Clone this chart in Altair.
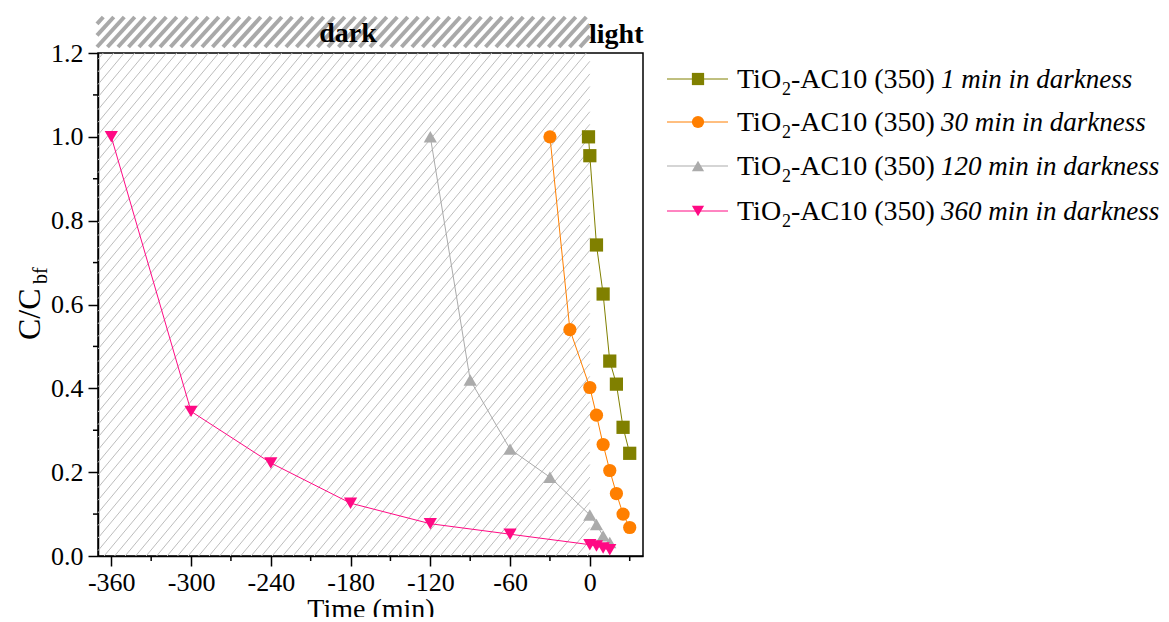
import altair as alt
import pandas as pd
import numpy as np

# ---------------- data ----------------
series_names = [
    "1 min in darkness",
    "30 min in darkness",
    "120 min in darkness",
    "360 min in darkness",
]
series_colors = ["#808000", "#ff7f00", "#ababab", "#ff0a84"]
series_shapes = ["square", "circle", "triangle-up", "triangle-down"]

time_1 = [-1, 0, 5, 10, 15, 20, 25, 30]
c_1 = [1.0, 0.955, 0.742, 0.625, 0.465, 0.41, 0.307, 0.245]
time_30 = [-30, -15, 0, 5, 10, 15, 20, 25, 30]
c_30 = [1.0, 0.54, 0.402, 0.336, 0.266, 0.204, 0.149, 0.10, 0.068]
time_120 = [-120, -90, -60, -30, 0, 5, 10, 15]
c_120 = [1.0, 0.42, 0.255, 0.188, 0.098, 0.075, 0.048, 0.032]
time_360 = [-360, -300, -240, -180, -120, -60, 0, 5, 10, 15]
c_360 = [1.0, 0.345, 0.222, 0.126, 0.077, 0.052, 0.027, 0.024, 0.019, 0.015]

x_ticks = [-360, -300, -240, -180, -120, -60, 0]
x_minor = [-330, -270, -210, -150, -90, -30, 30]
y_ticks = [0.0, 0.2, 0.4, 0.6, 0.8, 1.0, 1.2]
y_minor = [0.1, 0.3, 0.5, 0.7, 0.9, 1.1]

x_domain = [-370, 40]
y_domain = [0, 1.2]

rows = []
for name, ts, cs in zip(series_names, [time_1, time_30, time_120, time_360],
                        [c_1, c_30, c_120, c_360]):
    for t, c in zip(ts, cs):
        rows.append({"series": name, "time": t, "c": c})
df = pd.DataFrame(rows)

# ---------------- layout ----------------
W, H = 545, 503
FONT = "Liberation Serif"


def px2t(x):
    return x_domain[0] + x / W * (x_domain[1] - x_domain[0])


def py2c(y):
    return y_domain[1] - y / H * (y_domain[1] - y_domain[0])


X0 = (0 - x_domain[0]) / (x_domain[1] - x_domain[0]) * W  # pixel of t=0


def hatch(xmin, xmax, ymin, ymax, spacing, k):
    segs = []
    c = ymin + spacing * k * 0.5
    while c < ymax + k * xmax + spacing * k:
        xa = max(xmin, (c - ymax) / k)
        xb = min(xmax, (c - ymin) / k)
        if xb > xa:
            segs.append({"time": px2t(xa), "c": py2c(c - k * xa),
                         "time2": px2t(xb), "c2": py2c(c - k * xb)})
        c += spacing * k
    return pd.DataFrame(segs)


hatch_plot = hatch(0, X0, 0, H, 10.5, 1.2)
hatch_band = hatch(-1, X0, -36, -6, 10.5, 1.1)

axis_common = dict(
    grid=False, tickSize=10, tickWidth=1.5, tickColor="black",
    domainColor="black", domainWidth=1.5,
    labelFont=FONT, labelFontSize=26, labelColor="black",
    titleFont=FONT, titleFontSize=28, titleFontWeight="normal", titleColor="black",
)

x_enc = alt.X(
    "time:Q",
    scale=alt.Scale(domain=x_domain, nice=False, zero=False),
    axis=alt.Axis(values=x_ticks, title="Time (min)", labelExpr="datum.value",
                  labelPadding=3, titlePadding=0, **axis_common),
)
y_enc = alt.Y(
    "c:Q",
    scale=alt.Scale(domain=y_domain, nice=False, zero=False),
    axis=alt.Axis(values=y_ticks, title=None, format=".1f",
                  labelPadding=5, **axis_common),
)

hatch_layer = alt.Chart(hatch_plot).mark_rule(color="#bdbdbd", strokeWidth=1).encode(
    x=x_enc, y=y_enc, x2="time2:Q", y2="c2:Q")
band_layer = alt.Chart(hatch_band).mark_rule(color="#a9a9a9", strokeWidth=4, clip=False).encode(
    x=x_enc, y=y_enc, x2="time2:Q", y2="c2:Q")

color_scale = alt.Scale(domain=series_names, range=series_colors)
shape_scale = alt.Scale(domain=series_names, range=series_shapes)

lines = alt.Chart(df).mark_line(strokeWidth=1).encode(
    x=x_enc, y=y_enc,
    color=alt.Color("series:N", scale=color_scale, legend=None),
    detail="series:N",
)
points = alt.Chart(df).mark_point(filled=True, size=175, opacity=1).encode(
    x=x_enc, y=y_enc,
    color=alt.Color("series:N", scale=color_scale, legend=None),
    shape=alt.Shape("series:N", scale=shape_scale, legend=None),
)

minor_x = alt.Chart(pd.DataFrame({"time": x_minor})).mark_rule(
    color="black", strokeWidth=1.5, clip=False).encode(
    x=x_enc, y=alt.value(H), y2=alt.value(H + 5))
minor_y = alt.Chart(pd.DataFrame({"c": y_minor})).mark_rule(
    color="black", strokeWidth=1.5, clip=False).encode(
    y=y_enc, x=alt.value(0), x2=alt.value(-5))

one = pd.DataFrame({"a": [0]})


def label(text, x, y, size=28, **kw):
    return alt.Chart(one).mark_text(text=text, font=FONT, fontSize=size,
                                    color="black", baseline="alphabetic",
                                    **kw).encode(x=alt.value(x), y=alt.value(y))


deco = [
    label("dark", 250, -11, fontWeight="bold", align="center"),
    label("light", 491, -10, fontWeight="bold", align="left"),
    label("C/C", -58, 287, size=32, angle=270, align="left"),
    label("bf", -51, 231, size=20, angle=270, align="left"),
]

legend_layers = []
row_y = [26, 69, 113, 158]
for name, col, shp, ry in zip(series_names, series_colors, series_shapes, row_y):
    legend_layers.append(
        alt.Chart(one).mark_rule(color=col, strokeWidth=1, clip=False).encode(
            x=alt.value(569), x2=alt.value(630), y=alt.value(ry)))
    legend_layers.append(
        alt.Chart(one).mark_point(filled=True, size=150, opacity=1, color=col,
                                  shape=shp, clip=False).encode(
            x=alt.value(600), y=alt.value(ry)))
    legend_layers.append(label("TiO", 639, ry + 9, align="left"))
    legend_layers.append(label("2", 684, ry + 16, size=18, align="left"))
    legend_layers.append(label("-AC10 (350)", 693, ry + 9, align="left"))
    legend_layers.append(label(name, 843, ry + 9, size=27, align="left",
                               fontStyle="italic"))

chart = alt.layer(
    hatch_layer, band_layer, lines, points, minor_x, minor_y, *deco, *legend_layers
).properties(
    width=W, height=H,
    autosize=alt.AutoSizeParams(type="none"),
    padding={"left": 90, "top": 45, "right": 518, "bottom": 61},
).configure_view(
    stroke="black", strokeWidth=1.5
)

chart.save("out.html", embed_options={"renderer": "svg", "actions": False})
